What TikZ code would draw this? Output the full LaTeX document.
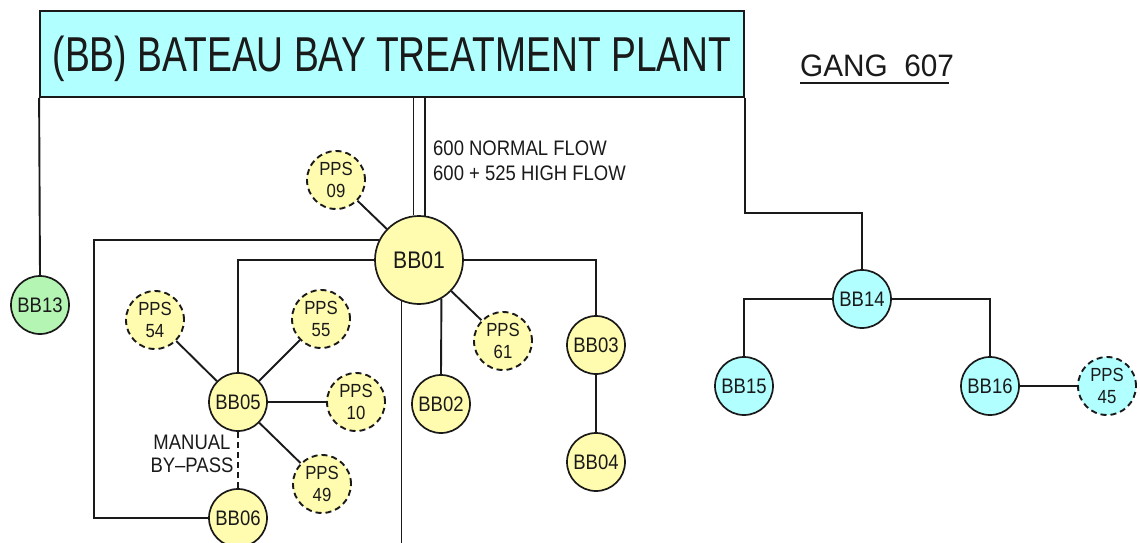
\documentclass[tikz,border=0pt]{standalone}
\usepackage{fontspec}
\newfontfamily\cad[FakeStretch=0.88]{Liberation Sans}
\newfontfamily\cadwide[FakeStretch=0.96]{Liberation Sans}
\newfontfamily\cadtitle[FakeStretch=0.76]{Liberation Sans}
\definecolor{cyanf}{HTML}{B2FFFF}
\definecolor{yelf}{HTML}{FFFCB0}
\definecolor{grnf}{HTML}{B4F5B4}
\definecolor{inkc}{HTML}{1A1A1A}
\tikzset{
  ln/.style={line width=1.9pt, inkc},
  stn/.style={circle, draw=inkc, line width=1.7pt, minimum size=58pt, inner sep=0pt,
    text=inkc, font=\cad\fontsize{21}{22}\selectfont},
  pps/.style={stn, line width=1.9pt, dash pattern=on 6pt off 4pt, align=center,
    font=\cad\fontsize{19}{22}\selectfont},
  ylw/.style={fill=yelf},
  cyn/.style={fill=cyanf},
  grn/.style={fill=grnf},
  txt/.style={inner sep=0pt, text=inkc, font=\cad\fontsize{21}{23}\selectfont}
}
\begin{document}
\begin{tikzpicture}[x=1pt,y=-1pt]
\useasboundingbox[fill=white] (0,0) rectangle (1140,543);
% title
\node[draw=inkc, line width=1.8pt, fill=cyanf, minimum width=704pt, minimum height=86pt,
  inner sep=0pt, text height=35pt, text depth=0pt, text=inkc,
  font=\cadtitle\fontsize{49}{50}\selectfont] (title) at (392,54) {(BB) BATEAU BAY TREATMENT PLANT};
\node[txt, anchor=base west, font=\cadwide\fontsize{31}{32}\selectfont] (gang) at (800,77) {GANG\ \ 607};
\draw[line width=2pt, inkc] (gang.base west) ++(0,6) coordinate (ul1) -- ++(149,0) coordinate (ul2);
% flow text
\node[txt, anchor=base west] (flow1) at (433,155) {600 NORMAL FLOW};
\node[txt, anchor=base west] (flow2) at (433,180) {600 + 525 HIGH FLOW};
% stations
\node[stn, grn] (BB13) at (40,305) {BB13};
\node[stn, ylw, minimum size=88pt, font=\cad\fontsize{24}{25}\selectfont] (BB01) at (419,260) {BB01};
\node[pps, ylw] (PPS09) at (336,180) {PPS\\09};
\node[stn, ylw] (BB05) at (238,402) {BB05};
\node[stn, ylw] (BB06) at (238,518) {BB06};
\node[pps, ylw] (PPS54) at (155,320) {PPS\\54};
\node[pps, ylw] (PPS55) at (321,319) {PPS\\55};
\node[pps, ylw] (PPS10) at (356,402) {PPS\\10};
\node[pps, ylw] (PPS49) at (322,484) {PPS\\49};
\node[stn, ylw] (BB02) at (441,404) {BB02};
\node[pps, ylw] (PPS61) at (503,341) {PPS\\61};
\node[stn, ylw] (BB03) at (596,345) {BB03};
\node[stn, ylw] (BB04) at (596,462) {BB04};
\node[stn, cyn] (BB14) at (862,299) {BB14};
\node[stn, cyn] (BB15) at (744,386) {BB15};
\node[stn, cyn] (BB16) at (990,386) {BB16};
\node[pps, cyn] (PPS45) at (1107,386) {PPS\\45};
% by-pass label
\node[txt, align=center] (bypass) at (192,454) {MANUAL\\BY–PASS};
% coordinates
\coordinate (lc) at (94,518);
\coordinate (k14) at (862,213);
\coordinate (outb) at (403,545);
% connectors
\draw[ln] (title.south west) -- (BB13.north);
\draw[ln] (BB01.97.8) -- (BB01.97.8 |- title.south);
\draw[ln] (BB01.82.2) -- (BB01.82.2 |- title.south);
\draw[ln] (title.south east) |- (k14) -- (BB14.north);
\draw[ln] (PPS09) -- (BB01);
\draw[ln] (BB01.154) -| (lc) -- (BB06.west);
\draw[ln] (BB01.west) -| (BB05.north);
\draw[ln] (BB01.east) -| (BB03.north);
\draw[ln] (BB01.-60) -- (BB02.north);
\draw[ln] (BB01.247) -- (BB01.247 |- outb);
\draw[ln] (BB01) -- (PPS61);
\draw[ln] (BB03) -- (BB04);
\draw[ln] (BB05) -- (PPS54);
\draw[ln] (BB05) -- (PPS55);
\draw[ln] (BB05) -- (PPS10);
\draw[ln] (BB05) -- (PPS49);
\draw[ln, dash pattern=on 6pt off 4pt] (BB05) -- (BB06);
\draw[ln] (BB14.west) -| (BB15.north);
\draw[ln] (BB14.east) -| (BB16.north);
\draw[ln] (BB16) -- (PPS45);
\end{tikzpicture}
\end{document}
